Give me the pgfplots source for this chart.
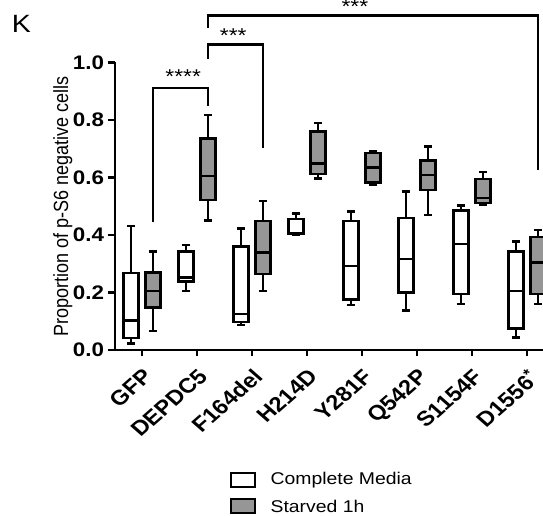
\documentclass[border=0pt]{standalone}
\usepackage{fontspec}
\setmainfont{Liberation Sans}
\usepackage{graphicx}
\usepackage{pgfplots}
\pgfplotsset{compat=1.18}
\usepgfplotslibrary{statistics}
\definecolor{boxgray}{RGB}{150,150,150}

\begin{document}
% the reference is stretched horizontally by about 1.14
\scalebox{1.14}[1]{%
\begin{tikzpicture}
\begin{axis}[
    x=24.12pt, y=143.75pt,
    xmin=-0.49, xmax=7.3, ymin=0, ymax=1.0,
    axis x line*=bottom, axis y line*=left,
    axis line style={line width=1.15pt},
    every tick/.style={black, line width=1.15pt},
    major tick length=3.2pt, tick align=outside,
    ytick={0,0.2,0.4,0.6,0.8,1.0},
    yticklabels={0.0,0.2,0.4,0.6,0.8,1.0},
    xtick={0,...,7},
    xticklabels={GFP,DEPDC5,F164del,H214D,Y281F,Q542P,S1154F,D1556\textsuperscript{*}},
    xticklabel style={rotate=45, anchor=north east, font=\bfseries\fontsize{10.4}{12}\selectfont,
        inner sep=1pt},
    xticklabel shift=4pt,
    yticklabel style={font=\bfseries\fontsize{9.8}{12}\selectfont, inner sep=0pt, anchor=east},
    yticklabel shift=1.4pt,
    ylabel={Proportion of p-S6 negative cells},
    every axis y label/.style={at={(rel axis cs:-0.122,0.5)}, rotate=90, anchor=center,
        font=\fontsize{9}{11}\selectfont},
    boxplot/draw direction=y,
    boxplot/box extend=0.27,
    boxplot/whisker extend=0.15,
    clip=false,
]
% Complete Media (white)
\addplot[black, line width=1.2pt, fill=white, boxplot prepared={draw position=-0.2,
  lower whisker=0.023, lower quartile=0.041, median=0.102, upper quartile=0.267, upper whisker=0.432}] coordinates {};
\addplot[black, line width=1.2pt, fill=white, boxplot prepared={draw position=0.8,
  lower whisker=0.206, lower quartile=0.238, median=0.252, upper quartile=0.342, upper whisker=0.365}] coordinates {};
\addplot[black, line width=1.2pt, fill=white, boxplot prepared={draw position=1.8,
  lower whisker=0.088, lower quartile=0.097, median=0.125, upper quartile=0.360, upper whisker=0.422}] coordinates {};
\addplot[black, line width=1.2pt, fill=white, boxplot prepared={draw position=2.8,
  lower whisker=0.399, lower quartile=0.403, median=0.406, upper quartile=0.455, upper whisker=0.475}] coordinates {};
\addplot[black, line width=1.2pt, fill=white, boxplot prepared={draw position=3.8,
  lower whisker=0.157, lower quartile=0.176, median=0.293, upper quartile=0.449, upper whisker=0.481}] coordinates {};
\addplot[black, line width=1.2pt, fill=white, boxplot prepared={draw position=4.8,
  lower whisker=0.137, lower quartile=0.200, median=0.317, upper quartile=0.458, upper whisker=0.551}] coordinates {};
\addplot[black, line width=1.2pt, fill=white, boxplot prepared={draw position=5.8,
  lower whisker=0.159, lower quartile=0.194, median=0.368, upper quartile=0.485, upper whisker=0.502}] coordinates {};
\addplot[black, line width=1.2pt, fill=white, boxplot prepared={draw position=6.8,
  lower whisker=0.044, lower quartile=0.075, median=0.206, upper quartile=0.342, upper whisker=0.377}] coordinates {};
% Starved 1h (gray)
\addplot[black, line width=1.2pt, fill=boxgray, boxplot prepared={draw position=0.2,
  lower whisker=0.067, lower quartile=0.148, median=0.205, upper quartile=0.269, upper whisker=0.342}] coordinates {};
\addplot[black, line width=1.2pt, fill=boxgray, boxplot prepared={draw position=1.2,
  lower whisker=0.450, lower quartile=0.522, median=0.605, upper quartile=0.735, upper whisker=0.817}] coordinates {};
\addplot[black, line width=1.2pt, fill=boxgray, boxplot prepared={draw position=2.2,
  lower whisker=0.206, lower quartile=0.264, median=0.339, upper quartile=0.449, upper whisker=0.519}] coordinates {};
\addplot[black, line width=1.2pt, fill=boxgray, boxplot prepared={draw position=3.2,
  lower whisker=0.597, lower quartile=0.611, median=0.649, upper quartile=0.760, upper whisker=0.790}] coordinates {};
\addplot[black, line width=1.2pt, fill=boxgray, boxplot prepared={draw position=4.2,
  lower whisker=0.574, lower quartile=0.583, median=0.635, upper quartile=0.684, upper whisker=0.690}] coordinates {};
\addplot[black, line width=1.2pt, fill=boxgray, boxplot prepared={draw position=5.2,
  lower whisker=0.470, lower quartile=0.557, median=0.609, upper quartile=0.659, upper whisker=0.707}] coordinates {};
\addplot[black, line width=1.2pt, fill=boxgray, boxplot prepared={draw position=6.2,
  lower whisker=0.504, lower quartile=0.512, median=0.528, upper quartile=0.595, upper whisker=0.620}] coordinates {};
\addplot[black, line width=1.2pt, fill=boxgray, boxplot prepared={draw position=7.2,
  lower whisker=0.160, lower quartile=0.194, median=0.305, upper quartile=0.392, upper whisker=0.417}] coordinates {};

% legend (drawn by hand)
\draw[black, line width=1pt, fill=white] (axis cs:1.62,-0.428) rectangle (axis cs:2.06,-0.476);
\node[anchor=west, inner sep=0pt, font=\fontsize{8.5}{10}\selectfont] at (axis cs:2.33,-0.452) {Complete Media};
\draw[black, line width=1pt, fill=boxgray] (axis cs:1.62,-0.518) rectangle (axis cs:2.06,-0.566);
\node[anchor=west, inner sep=0pt, font=\fontsize{8.5}{10}\selectfont] at (axis cs:2.33,-0.542) {Starved 1h};

% significance brackets
\draw[line width=1.15pt] (axis cs:0.2,0.446) |- (axis cs:1.2,0.912) -- (axis cs:1.2,0.848);
\draw[line width=1.15pt] (axis cs:1.2,1.011) |- (axis cs:2.2,1.062) -- (axis cs:2.2,0.703);
\draw[line width=1.15pt] (axis cs:1.2,1.120) |- (axis cs:7.2,1.163) -- (axis cs:7.2,0.626);
\node[anchor=base, font=\fontsize{10}{12}\selectfont, inner sep=0pt] at (axis cs:0.75,0.927) {****};
\node[anchor=base, font=\fontsize{10}{12}\selectfont, inner sep=0pt] at (axis cs:1.66,1.068) {***};
\node[anchor=base, font=\fontsize{10}{12}\selectfont, inner sep=0pt] at (axis cs:3.87,1.169) {***};
\node[font=\fontsize{12.5}{14}\selectfont] at (axis cs:-2.19,1.135) {K};

\coordinate (bl) at (axis cs:-2.58,-0.574);
\coordinate (tr) at (axis cs:7.29,1.217);
\end{axis}
\pgfresetboundingbox
\path[use as bounding box] (bl) rectangle (tr);
\end{tikzpicture}}
\end{document}
